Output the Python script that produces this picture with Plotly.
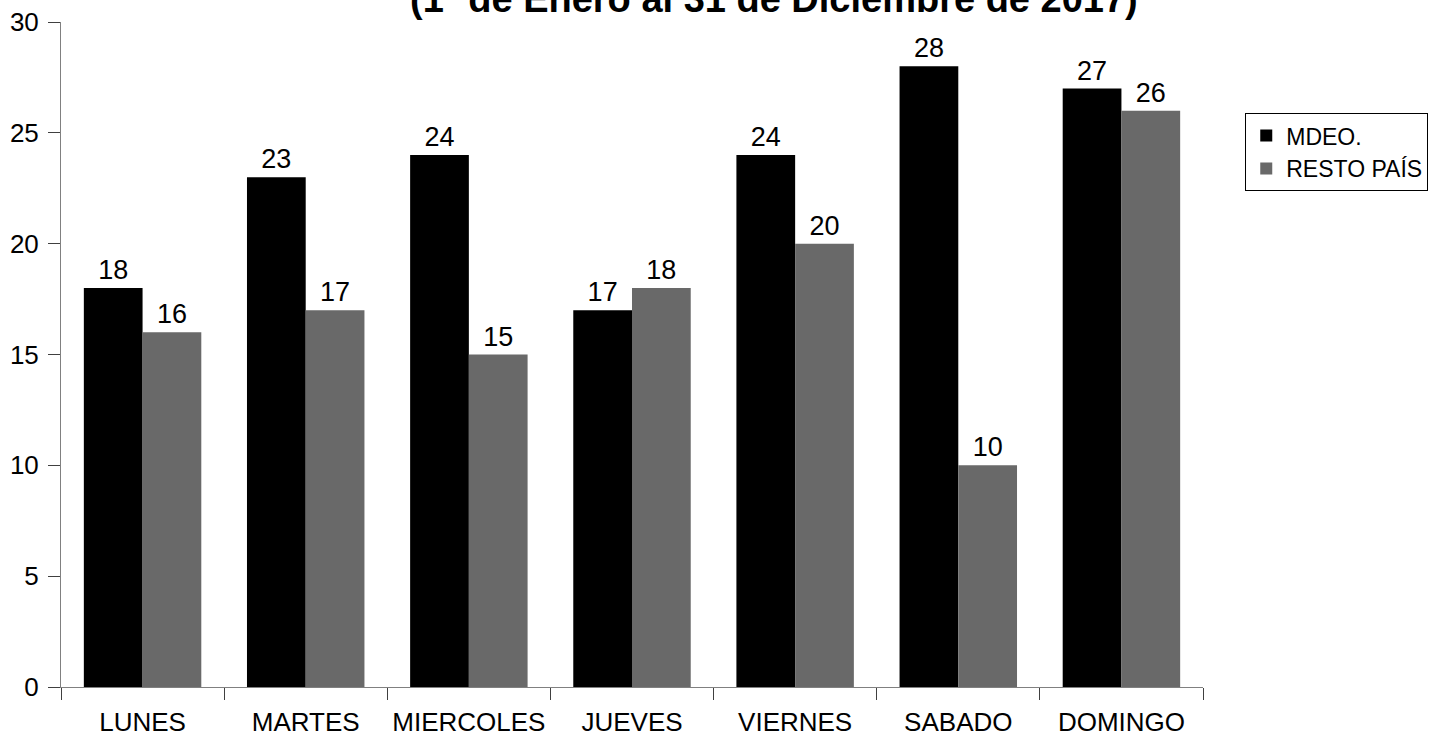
import plotly.graph_objects as go

# datos
dias = ['LUNES', 'MARTES', 'MIERCOLES', 'JUEVES', 'VIERNES', 'SABADO', 'DOMINGO']
mdeo = [18, 23, 24, 17, 24, 28, 27]
resto_pais = [16, 17, 15, 18, 20, 10, 26]

FUENTE = 'Arial, Liberation Sans, sans-serif'

fig = go.Figure()
fig.add_trace(go.Bar(
    x=dias, y=mdeo, name='MDEO.',
    marker=dict(color='#000000', line=dict(width=0)),
    text=mdeo, textposition='outside', cliponaxis=False,
    textfont=dict(size=27, color='black', family=FUENTE)
))
fig.add_trace(go.Bar(
    x=dias, y=resto_pais, name='RESTO PAÍS',
    marker=dict(color='#696969', line=dict(width=0)),
    text=resto_pais, textposition='outside', cliponaxis=False,
    textfont=dict(size=27, color='black', family=FUENTE)
))

fig.update_layout(
    width=1449, height=740,
    paper_bgcolor='white', plot_bgcolor='white',
    font=dict(family=FUENTE, color='black', size=26),
    margin=dict(l=61, r=246, t=22, b=53, autoexpand=False),
    barmode='group', bargap=0.28, bargroupgap=0,
    showlegend=True,
    legend=dict(
        x=1.037, xanchor='left', y=0.863, yanchor='top',
        bordercolor='#000000', borderwidth=1,
        font=dict(size=23, family=FUENTE),
        itemwidth=30, tracegroupgap=0
    ),
    xaxis=dict(
        showline=True, linecolor='#808080', linewidth=1, automargin=False,
        ticks='outside', tickson='boundaries', ticklen=12, tickcolor='#404040',
        ticklabelstandoff=12,
        tickfont=dict(size=26), showgrid=False
    ),
    yaxis=dict(
        range=[0, 30], dtick=5, showline=True, linecolor='#808080', linewidth=1,
        automargin=False, ticklabelstandoff=4,
        ticks='outside', ticklen=12, tickcolor='#404040',
        tickfont=dict(size=26), showgrid=False, zeroline=False
    ),
    annotations=[dict(
        text='<b>(1º de Enero al 31 de Diciembre de 2017)</b>',
        xref='paper', yref='paper', x=0.624, y=1.0,
        xanchor='center', yanchor='bottom', yshift=0,
        showarrow=False, font=dict(size=38, family=FUENTE)
    )]
)

# sin margen del body para que el grafico empiece en la esquina
fig.write_html('out.html', config={'displayModeBar': False},
               post_script="document.body.style.margin='0';")
